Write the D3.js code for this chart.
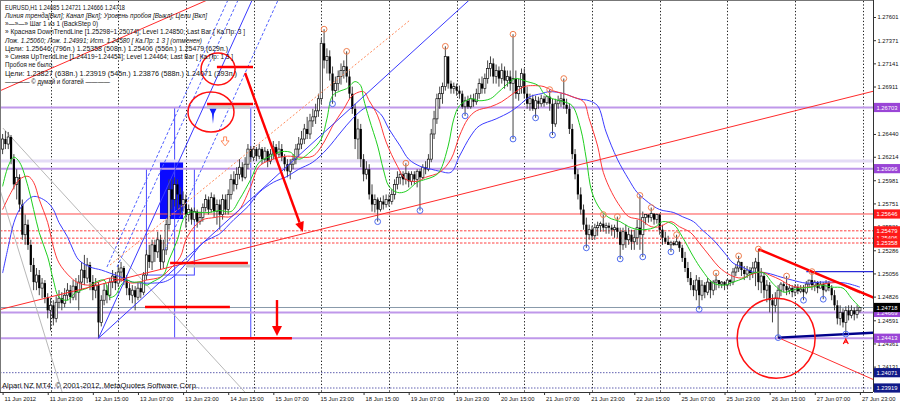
<!DOCTYPE html>
<html><head><meta charset="utf-8">
<script src="https://cdn.jsdelivr.net/npm/d3@7"></script>
<style>body{margin:0;background:#fff}svg{display:block}text{font-family:"Liberation Sans",Arial,sans-serif}</style>
</head><body><svg id="c" width="900" height="405"></svg>
<script>
// ---------------- DATA ----------------
const open=[1.2629,1.2639,1.2634,1.2641,1.2619,1.2594,1.2601,1.2574,1.2544,1.2554,
1.2534,1.2514,1.2497,1.2504,1.2491,1.2496,1.2482,1.2469,1.2474,1.2461,
1.2477,1.2481,1.2476,1.2484,1.2489,1.2482,1.2493,1.2487,1.2497,1.2509,
1.2501,1.2514,1.2497,1.2489,1.2494,1.2457,1.2479,1.2489,1.2484,1.2497,
1.2503,1.2496,1.2507,1.2511,1.2499,1.2491,1.2484,1.2489,1.2482,1.2491,
1.2487,1.2504,1.2524,1.2517,1.2534,1.2527,1.2539,1.2517,1.2529,1.2554,
1.2589,1.2579,1.2594,1.2584,1.2574,1.2579,1.2564,1.2569,1.2559,1.2567,
1.2557,1.2561,1.2571,1.2579,1.2569,1.2581,1.2567,1.2574,1.2564,1.2579,
1.2569,1.2584,1.2599,1.2594,1.2604,1.2611,1.2601,1.2614,1.2629,1.2621,
1.2629,1.2622,1.2629,1.2619,1.2627,1.2617,1.2624,1.2631,1.2624,1.2629,
1.2621,1.2614,1.2607,1.2614,1.2619,1.2629,1.2634,1.2639,1.2649,1.2644,
1.2657,1.2661,1.2667,1.2679,1.2734,1.2717,1.2721,1.2704,1.2687,1.2694,
1.2701,1.2707,1.2711,1.2701,1.2684,1.2669,1.2639,1.2649,1.2619,1.2604,
1.2609,1.2584,1.2574,1.2579,1.2569,1.2577,1.2574,1.2579,1.2577,1.2584,
1.2594,1.2601,1.2604,1.2599,1.2605,1.2597,1.2604,1.2599,1.2607,1.2601,
1.2611,1.2609,1.2619,1.2644,1.2659,1.2679,1.2684,1.2691,1.2721,1.2694,
1.2689,1.2691,1.2687,1.2684,1.2671,1.2677,1.2671,1.2679,1.2676,1.2684,
1.2694,1.2689,1.2699,1.2709,1.2714,1.2701,1.2707,1.2699,1.2707,1.2697,
1.2701,1.2694,1.2699,1.2684,1.2691,1.2704,1.2684,1.2674,1.2679,1.2669,
1.2677,1.2674,1.2679,1.2675,1.2681,1.2674,1.2654,1.2674,1.2677,1.2679,
1.2673,1.2669,1.2649,1.2624,1.2604,1.2584,1.2569,1.2554,1.2544,1.2549,
1.2543,1.2551,1.2553,1.2555,1.2551,1.2553,1.2551,1.2549,1.2551,1.2547,
1.2534,1.2547,1.2539,1.2544,1.2537,1.2541,1.2551,1.2544,1.2561,1.2564,
1.2561,1.2565,1.2559,1.2564,1.2549,1.2541,1.2537,1.2534,1.2536,1.2534,
1.2537,1.2531,1.2521,1.2511,1.2501,1.2494,1.2489,1.2499,1.2484,1.2494,
1.2487,1.2497,1.2489,1.2497,1.2499,1.2495,1.2497,1.2494,1.2499,1.2497,
1.2507,1.2511,1.2517,1.2509,1.2505,1.2509,1.2506,1.2511,1.2517,1.2497,
1.2503,1.2489,1.2494,1.2479,1.2474,1.2481,1.2489,1.2495,1.2493,1.2489,
1.2491,1.2487,1.2492,1.2488,1.2490,1.2487,1.2495,1.2499,1.2494,1.2497,
1.2491,1.2495,1.2489,1.2496,1.2491,1.2484,1.2474,1.2461,1.2467,1.2457,
1.2469,1.2464,1.2469,1.2465,1.24685];
const high=[1.2644,1.2647,1.2646,1.2643,1.2624,1.2609,1.2604,1.2579,1.2564,1.2559,
1.2539,1.2521,1.2511,1.2509,1.2501,1.2499,1.2486,1.2481,1.2479,1.2483,
1.2489,1.2487,1.2491,1.2496,1.2494,1.2499,1.2501,1.2504,1.2517,1.2524,
1.2521,1.2517,1.2504,1.2501,1.2497,1.2484,1.2496,1.2494,1.2501,1.2509,
1.2507,1.2514,1.2517,1.2513,1.2504,1.2496,1.2494,1.2493,1.2496,1.2497,
1.2507,1.2529,1.2534,1.2539,1.2539,1.2547,1.2544,1.2539,1.2559,1.2599,
1.2599,1.2601,1.2599,1.2591,1.2587,1.2584,1.2574,1.2571,1.2571,1.2569,
1.2567,1.2575,1.2584,1.2582,1.2586,1.2584,1.2579,1.2579,1.2584,1.2584,
1.2589,1.2604,1.2607,1.2611,1.2619,1.2616,1.2621,1.2634,1.2632,1.2632,
1.2631,1.2634,1.2631,1.2631,1.2629,1.2629,1.2637,1.2634,1.2637,1.2634,
1.2624,1.2619,1.2619,1.2624,1.2634,1.2641,1.2647,1.2654,1.2661,1.2664,
1.2669,1.2674,1.2684,1.2739,1.2748,1.2729,1.2727,1.2711,1.2701,1.2707,
1.2714,1.2717,1.2726,1.2707,1.2691,1.2674,1.2659,1.2654,1.2624,1.2617,
1.2614,1.2594,1.2584,1.2581,1.2581,1.2583,1.2584,1.2584,1.2589,1.2599,
1.2607,1.2607,1.2607,1.2615,1.2607,1.2607,1.2607,1.2609,1.2609,1.2614,
1.2617,1.2624,1.2649,1.2667,1.2684,1.2691,1.2695,1.2731,1.2721,1.2697,
1.2695,1.2694,1.2692,1.2687,1.2681,1.2682,1.2683,1.2684,1.2689,1.2699,
1.2701,1.2704,1.2717,1.2721,1.2719,1.2713,1.2711,1.2714,1.2711,1.2707,
1.2707,1.2743,1.2707,1.2699,1.2709,1.2709,1.2691,1.2684,1.2683,1.2682,
1.2681,1.2683,1.2682,1.2681,1.2688,1.2679,1.2679,1.2682,1.2684,1.2699,
1.2679,1.2674,1.2654,1.2629,1.2609,1.2591,1.2574,1.2561,1.2554,1.2553,
1.2555,1.2557,1.2557,1.2564,1.2556,1.2556,1.2554,1.2554,1.2562,1.2551,
1.2551,1.2554,1.2551,1.2549,1.2549,1.2559,1.2583,1.2567,1.2564,1.2564,
1.2571,1.2565,1.2565,1.2565,1.2554,1.2547,1.2543,1.2538,1.2538,1.2544,
1.2538,1.2534,1.2527,1.2517,1.2507,1.2499,1.2504,1.2502,1.2499,1.2497,
1.2501,1.2499,1.2499,1.2506,1.2499,1.2498,1.2498,1.2500,1.2500,1.2511,
1.2515,1.2523,1.2517,1.2513,1.2513,1.2512,1.2517,1.2521,1.25298,1.2511,
1.2507,1.2499,1.2497,1.2485,1.2487,1.2494,1.2497,1.2497,1.2503,1.2495,
1.2494,1.2495,1.2495,1.2494,1.2494,1.2498,1.2499,1.25074,1.2499,1.2498,
1.2498,1.2497,1.2499,1.2498,1.2494,1.2489,1.2479,1.2474,1.2471,1.2473,
1.2474,1.2474,1.2472,1.2474,1.24721];
const low=[1.2624,1.2629,1.2629,1.2614,1.2589,1.2579,1.2567,1.2539,1.2534,1.2529,
1.2507,1.2489,1.2489,1.2484,1.2481,1.2476,1.2461,1.2449,1.2454,1.2457,
1.2471,1.2469,1.2472,1.2479,1.2476,1.2479,1.2479,1.2469,1.2489,1.2494,
1.2496,1.2489,1.2479,1.2481,1.24413,1.2453,1.2474,1.2476,1.2479,1.2491,
1.2489,1.2492,1.2497,1.2494,1.2484,1.2479,1.2476,1.2469,1.2479,1.2481,
1.2484,1.2499,1.2511,1.2509,1.2517,1.2521,1.2509,1.2511,1.2524,1.2549,
1.2569,1.2572,1.2569,1.2564,1.2567,1.2551,1.2557,1.2554,1.2557,1.2551,
1.2554,1.2557,1.2567,1.2564,1.2566,1.2561,1.2554,1.2549,1.2559,1.2564,
1.2564,1.2579,1.2587,1.2589,1.2599,1.2597,1.2599,1.2609,1.2616,1.2617,
1.2617,1.2619,1.2614,1.2616,1.2611,1.2614,1.2619,1.2619,1.2621,1.2617,
1.2607,1.2601,1.2599,1.2609,1.2614,1.2621,1.2629,1.2634,1.2639,1.2639,
1.2651,1.2654,1.2661,1.2674,1.2709,1.2704,1.2697,1.2674,1.2681,1.2687,
1.2693,1.2699,1.2695,1.2679,1.2664,1.2629,1.2619,1.2611,1.2597,1.2599,
1.2579,1.2567,1.2566,1.2557,1.2567,1.2569,1.2571,1.2572,1.2574,1.2579,
1.2589,1.2594,1.2593,1.2594,1.2591,1.2593,1.2594,1.2591,1.2568,1.2599,
1.2604,1.2607,1.2616,1.2639,1.2654,1.2669,1.2674,1.2687,1.2689,1.2684,
1.2684,1.2682,1.2679,1.2669,1.2662,1.2669,1.2669,1.2671,1.2673,1.2679,
1.2684,1.2684,1.2694,1.2701,1.2694,1.2694,1.2691,1.2694,1.2689,1.2691,
1.2687,1.2639,1.2679,1.2677,1.2684,1.2679,1.2669,1.2667,1.2667,1.2660,
1.2669,1.2671,1.2671,1.2673,1.2667,1.2643,1.2651,1.2669,1.2671,1.2669,
1.2664,1.2644,1.2619,1.2599,1.2579,1.2564,1.2549,1.2531,1.2539,1.2539,
1.2539,1.2543,1.2547,1.2547,1.2545,1.2545,1.2543,1.2541,1.2541,1.2520,
1.2529,1.2531,1.2534,1.2529,1.2529,1.2534,1.2529,1.2522,1.2554,1.2556,
1.2557,1.2554,1.2555,1.2544,1.2534,1.2535,1.2534,1.2527,1.2533,1.2534,
1.2527,1.2517,1.2507,1.2497,1.2489,1.2483,1.2479,1.2470,1.2479,1.2481,
1.2484,1.2481,1.2484,1.2489,1.2491,1.2491,1.2489,1.2491,1.2493,1.2494,
1.2503,1.2507,1.2503,1.2499,1.2501,1.2499,1.2501,1.2493,1.2489,1.2486,
1.2481,1.2477,1.2467,1.2457,1.2467,1.24419,1.2483,1.2487,1.2484,1.2485,
1.2482,1.2483,1.2485,1.2486,1.2479,1.2485,1.2491,1.2489,1.2488,1.2486,
1.2491,1.2480,1.2487,1.2488,1.2479,1.2469,1.2455,1.2454,1.2452,1.24454,
1.2459,1.2461,1.2459,1.2461,1.24666];
const close=[1.2639,1.2634,1.2641,1.2619,1.2594,1.2601,1.2574,1.2544,1.2554,1.2534,
1.2514,1.2497,1.2504,1.2491,1.2496,1.2482,1.2469,1.2474,1.2461,1.2477,
1.2481,1.2476,1.2484,1.2489,1.2482,1.2493,1.2487,1.2497,1.2509,1.2501,
1.2514,1.2497,1.2489,1.2494,1.2457,1.2479,1.2489,1.2484,1.2497,1.2503,
1.2496,1.2507,1.2511,1.2499,1.2491,1.2484,1.2489,1.2482,1.2491,1.2487,
1.2504,1.2524,1.2517,1.2534,1.2527,1.2539,1.2517,1.2529,1.2554,1.2589,
1.2579,1.2594,1.2584,1.2574,1.2579,1.2564,1.2569,1.2559,1.2567,1.2557,
1.2561,1.2571,1.2579,1.2569,1.2581,1.2567,1.2574,1.2564,1.2579,1.2569,
1.2584,1.2599,1.2594,1.2604,1.2611,1.2601,1.2614,1.2629,1.2621,1.2629,
1.2622,1.2629,1.2619,1.2627,1.2617,1.2624,1.2631,1.2624,1.2629,1.2621,
1.2614,1.2607,1.2614,1.2619,1.2629,1.2634,1.2639,1.2649,1.2644,1.2657,
1.2661,1.2667,1.2679,1.2734,1.2717,1.2721,1.2704,1.2687,1.2694,1.2701,
1.2707,1.2711,1.2701,1.2684,1.2669,1.2639,1.2649,1.2619,1.2604,1.2609,
1.2584,1.2574,1.2579,1.2569,1.2577,1.2574,1.2579,1.2577,1.2584,1.2594,
1.2601,1.2604,1.2599,1.2605,1.2597,1.2604,1.2599,1.2607,1.2601,1.2611,
1.2609,1.2619,1.2644,1.2659,1.2679,1.2684,1.2691,1.2721,1.2694,1.2689,
1.2691,1.2687,1.2684,1.2671,1.2677,1.2671,1.2679,1.2676,1.2684,1.2694,
1.2689,1.2699,1.2709,1.2714,1.2701,1.2707,1.2699,1.2707,1.2697,1.2701,
1.2694,1.2699,1.2684,1.2691,1.2704,1.2684,1.2674,1.2679,1.2669,1.2677,
1.2674,1.2679,1.2675,1.2681,1.2674,1.2654,1.2674,1.2677,1.2679,1.2673,
1.2669,1.2649,1.2624,1.2604,1.2584,1.2569,1.2554,1.2544,1.2549,1.2543,
1.2551,1.2553,1.2555,1.2551,1.2553,1.2551,1.2549,1.2551,1.2547,1.2534,
1.2547,1.2539,1.2544,1.2537,1.2541,1.2551,1.2544,1.2561,1.2564,1.2561,
1.2565,1.2559,1.2564,1.2549,1.2541,1.2537,1.2534,1.2536,1.2534,1.2537,
1.2531,1.2521,1.2511,1.2501,1.2494,1.2489,1.2499,1.2484,1.2494,1.2487,
1.2497,1.2489,1.2497,1.2499,1.2495,1.2497,1.2494,1.2499,1.2497,1.2507,
1.2511,1.2517,1.2509,1.2505,1.2509,1.2506,1.2511,1.2517,1.2497,1.2503,
1.2489,1.2494,1.2479,1.2474,1.2481,1.2489,1.2495,1.2493,1.2489,1.2491,
1.2487,1.2492,1.2488,1.2490,1.2487,1.2495,1.2499,1.2494,1.2497,1.2491,
1.2495,1.2489,1.2496,1.2491,1.2484,1.2474,1.2461,1.2467,1.2457,1.2469,
1.2464,1.2469,1.2465,1.2469,1.24718];

const fractalUp=[114,122,143,157,181,194,199,213,218,226,230,239,253,261,268,278,287];
const fractalDown=[117,133,148,164,181,189,195,207,219,227,237,247,275,284,291,299];

const maFast=[[0,1.2592],[2,1.2612],[4,1.2621],[6,1.2616],[9,1.2592],[11,1.2569],[13,1.2546],[16,1.2522],[18,1.2499],[20,1.2482],[23,1.2479],[26,1.2487],[30,1.2491],[33,1.2497],[36,1.2499],[37,1.2492],[38,1.2482],[40,1.2484],[42,1.2494],[44,1.2499],[46,1.2497],[49,1.2497],[51,1.2494],[53,1.2497],[57,1.2504],[59,1.2519],[62,1.2539],[64,1.2559],[66,1.2566],[70,1.2566],[73,1.2566],[77,1.2568],[81,1.2567],[84,1.2579],[88,1.2599],[91,1.2616],[95,1.2622],[98,1.2626],[102,1.2626],[105,1.2619],[109,1.2626],[113,1.2639],[115,1.2659],[117,1.2682],[120,1.2687],[122,1.2689],[125,1.2696],[127,1.2692],[128,1.2679],[130,1.2659],[133,1.2632],[135,1.2609],[137,1.2592],[140,1.2586],[143,1.2587],[147,1.2596],[150,1.2599],[153,1.2602],[155,1.2607],[158,1.2632],[160,1.2659],[162,1.2672],[166,1.2679],[169,1.2677],[173,1.2679],[176,1.2686],[180,1.2696],[182,1.2699],[186,1.2696],[190,1.2692],[192,1.2684],[195,1.2679],[199,1.2676],[202,1.2672],[205,1.2649],[207,1.2619],[209,1.2586],[212,1.2569],[215,1.2561],[219,1.2557],[222,1.2552],[226,1.2549],[231,1.2551],[234,1.2557],[238,1.2554],[241,1.2542],[245,1.2522],[248,1.2509],[252,1.2496],[256,1.2494],[259,1.2497],[263,1.2501],[266,1.2506],[270,1.2506],[273,1.2496],[277,1.2487],[280,1.2489],[283,1.2491],[287,1.2492],[290,1.2494],[294,1.2492],[298,1.2491],[301,1.2481],[304,1.2472]];
const maMid=[[0,1.2569],[3,1.2586],[6,1.2599],[9,1.2602],[11,1.2596],[13,1.2579],[16,1.2556],[18,1.2532],[20,1.2516],[24,1.2502],[27,1.2496],[31,1.2494],[34,1.2497],[38,1.2501],[42,1.2499],[46,1.2496],[51,1.2499],[56,1.2502],[59,1.2509],[63,1.2522],[65,1.2539],[68,1.2552],[71,1.2559],[75,1.2561],[77,1.2562],[81,1.2562],[84,1.2569],[88,1.2592],[91,1.2612],[96,1.2619],[101,1.2622],[105,1.2621],[110,1.2622],[114,1.2636],[117,1.2652],[121,1.2669],[124,1.2682],[128,1.2686],[130,1.2677],[133,1.2662],[136,1.2636],[140,1.2612],[143,1.2599],[147,1.2597],[150,1.2601],[155,1.2606],[159,1.2619],[162,1.2642],[165,1.2659],[168,1.2667],[173,1.2671],[177,1.2676],[181,1.2684],[185,1.2691],[188,1.2692],[192,1.2691],[195,1.2687],[199,1.2684],[202,1.2681],[206,1.2676],[208,1.2659],[211,1.2632],[213,1.2606],[216,1.2586],[219,1.2572],[222,1.2562],[226,1.2559],[230,1.2552],[233,1.2552],[237,1.2557],[240,1.2552],[244,1.2546],[247,1.2536],[251,1.2522],[254,1.2512],[258,1.2504],[262,1.2501],[265,1.2504],[269,1.2507],[272,1.2504],[276,1.2499],[279,1.2494],[282,1.2492],[286,1.2492],[289,1.2494],[293,1.2496],[297,1.2496],[300,1.2491],[304,1.2486]];
const maSlow=[[0,1.2506],[2,1.2532],[4,1.2556],[6,1.2569],[9,1.2579],[11,1.2582],[13,1.2581],[16,1.2576],[18,1.2569],[20,1.2556],[23,1.2542],[25,1.2529],[27,1.2519],[31,1.2512],[35,1.2509],[38,1.2506],[42,1.2502],[46,1.2497],[50,1.2496],[53,1.2496],[57,1.2497],[60,1.2501],[64,1.2512],[68,1.2526],[71,1.2536],[75,1.2542],[77,1.2545],[82,1.2559],[87,1.2572],[91,1.2586],[96,1.2596],[101,1.2602],[105,1.2609],[110,1.2616],[115,1.2629],[120,1.2646],[124,1.2659],[128,1.2669],[130,1.2671],[134,1.2664],[137,1.2649],[141,1.2632],[144,1.2619],[148,1.2612],[152,1.2609],[155,1.2607],[159,1.2606],[162,1.2622],[166,1.2642],[169,1.2652],[175,1.2659],[180,1.2666],[183,1.2672],[187,1.2681],[191,1.2684],[194,1.2686],[199,1.2684],[204,1.2679],[208,1.2677],[211,1.2672],[214,1.2646],[218,1.2619],[222,1.2599],[225,1.2586],[229,1.2576],[233,1.2569],[238,1.2566],[241,1.2562],[245,1.2557],[248,1.2549],[252,1.2539],[256,1.2526],[259,1.2516],[263,1.2511],[266,1.2507],[271,1.2506],[276,1.2502],[280,1.2499],[285,1.2496],[290,1.2497],[294,1.2497],[299,1.2496],[304,1.2492]];

const priceTicks=[1.27601,1.27371,1.27141,1.26911,1.26440,1.26214,1.25981,1.25751,1.25521,1.25286,1.25056,1.24826,1.24591,1.24361,1.24131];
const timeTickIdx=[0,16,32,48,64,80,96,112,128,144,160,176,192,208,224,240,256,272,288,304];
const timeTickLabels=["11 Jun 2012","11 Jun 23:00","12 Jun 15:00","13 Jun 07:00","13 Jun 23:00","14 Jun 15:00","15 Jun 07:00","15 Jun 23:00","18 Jun 15:00","19 Jun 07:00","19 Jun 23:00","20 Jun 15:00","21 Jun 07:00","21 Jun 23:00","22 Jun 15:00","25 Jun 07:00","25 Jun 23:00","26 Jun 15:00","27 Jun 07:00","27 Jun 23:00"];
const dayStartIdx=[17,41,65,89,113,137,161,185,209,233,257,281,305];

const purpleLevels=[1.26703,1.26096,1.24669,1.24413];
const lavenderLevel=1.26172;
const redSolidLevels=[1.25646];
const redDashedLevels=[1.25479,1.25406,1.25358];
const navyLevels=[1.24071,1.23919];
const bidPrice=1.24718;

// chart objects: [barIndex, price] anchors
const redLongLine=[[0,1.24704],[300,1.26803]];
const redTopLine=[[0,1.2688],[71,1.2775]];
const redDownTrend=[[268,1.25298],[287,1.25074]];
const blueUpTrend=[[275,1.24419],[299,1.24454]];
const redThinLine=[[275,1.24419],[309,1.2400]];
const blueLevelRay=[[285,1.25074],[309,1.25074]];
const blueLineA=[[34,1.24413],[88.5,1.2777]];
const blueLineC=[[34,1.24413],[155,1.27502]];
const blueDash1=[[37,1.2512],[79.9,1.2777]];
const blueDash2=[[40.6,1.2512],[83.5,1.2777]];
const blueDash3=[[57.6,1.2529],[97.7,1.2777]];
const orangeDash=[[38.1,1.2514],[144.5,1.27571]];
const grayLine1=[[0.1,1.26499],[85.9,1.23879]];
const grayLine2=[[-0.9,1.25884],[21.1,1.23879]];
const blueFillBox=[[55.8,1.26172],[64,1.25596]];
const blueBox1=[[51,1.26096],[68,1.2504]];
const blueBox2=[[61,1.26703],[88,1.24413]];
const redSegs=[[[76,1.27105],[88.8,1.27105]],[[72.5,1.26738],[88.8,1.26738]],[[59.4,1.2516],[87,1.2516]],[[50.5,1.24723],[80.6,1.24723]],[[77.1,1.24413],[102.6,1.24413]]];
const graySegs=[[[72.5,1.26708],[87.7,1.26708]],[[65,1.2513],[87.7,1.2513]]];
const redEllipses=[[76.4,1.27085],[73.9,1.26658],[274.3,1.24413]];
const bigArrow=[[86,1.27045],[106.5,1.25468]];
const downArrow=[[97.3,1.24792],[97.3,1.24435]];
const blueArrowAt=[74.6,1.2669];
const orangeArrowAt=[78.9,1.26411];

const headerLines=[
"EURUSD,H1  1.24685 1.24721 1.24666 1.24718",
"Линия тренда[Вкл]; Канал [Вкл]; Уровень пробоя [Выкл]; Цели [Вкл]",
"»—»—» Шаг 1 из 1 (BackStep 0)",
"» Красная DownTrendLine [1.25298÷1.25074]; Level 1.24850; Last Bar [ Ка.Пр: 3 ]",
"Лож. 1.25060; Лож. 1.24991; Ист. 1.24580 [ Ка.Пр: 1 3 ] (отменен)",
"Цели: 1.25646 (796п.) 1.25358 (508п.) 1.25406 (556п.) 1.25479 (629п.)",
"» Синяя UpTrendLine [1.24419÷1.24454]; Level 1.24464; Last Bar [ Ка.Пр: 1 3 ]",
"Пробоя не было.",
"Цели: 1.23827 (638п.) 1.23919 (545п.) 1.23876 (588п.) 1.24071 (393п.)",
"———— © думай и богатей ————"];
const copyright="Alpari NZ MT4, © 2001-2012, MetaQuotes Software Corp.";

// ---------------- DRAW ----------------
const R=873, B=392;
const x=d3.scaleLinear().domain([0,304]).range([2.6,859.9]);
const y=d3.scaleLinear().domain([1.23919,1.27601]).range([388,17]);
const svg=d3.select("#c");
svg.append("rect").attr("width",900).attr("height",405).attr("fill","#fff");
svg.append("defs").append("clipPath").attr("id","clip").append("rect").attr("x",1).attr("y",1).attr("width",R-1).attr("height",B-1);
const g=svg.append("g").attr("clip-path","url(#clip)");

function seg(p,a,b,stroke,w,dash,ext){
  let x1=x(a[0]),y1=y(a[1]),x2=x(b[0]),y2=y(b[1]);
  if(ext){const k=(y2-y1)/(x2-x1); if(ext==="both"){y1=y1+k*(-5-x1);x1=-5;} y2=y1+k*(900-x1);x2=900;}
  const l=p.append("line").attr("x1",x1).attr("y1",y1).attr("x2",x2).attr("y2",y2).attr("stroke",stroke).attr("stroke-width",w);
  if(dash)l.attr("stroke-dasharray",dash);
  return l;
}
function hline(p,pr,stroke,w,dash,x1){
  const l=p.append("line").attr("x1",x1||0).attr("x2",R).attr("y1",y(pr)).attr("y2",y(pr)).attr("stroke",stroke).attr("stroke-width",w);
  if(dash)l.attr("stroke-dasharray",dash);
}

// background rectangles
const bx=blueFillBox;
g.append("rect").attr("x",x(bx[0][0])).attr("y",y(bx[0][1])).attr("width",x(bx[1][0])-x(bx[0][0])).attr("height",y(bx[1][1])-y(bx[0][1])).attr("fill","#0a0aff");
[blueBox1,blueBox2].forEach(b=>g.append("rect").attr("x",x(b[0][0])).attr("y",y(b[0][1])).attr("width",x(b[1][0])-x(b[0][0])).attr("height",y(b[1][1])-y(b[0][1])).attr("fill","none").attr("stroke","#4a4aff").attr("stroke-width",1));

// vertical grid
dayStartIdx.forEach(d=>g.append("line").attr("x1",Math.round(x(d))+0.5).attr("x2",Math.round(x(d))+0.5).attr("y1",1).attr("y2",B).attr("stroke","#222").attr("stroke-width",1).attr("stroke-dasharray","1.3,2"));

// horizontal levels
hline(g,lavenderLevel,"#e4dcf6",3);
purpleLevels.forEach(p=>hline(g,p,"#bf98ea",2));
redSolidLevels.forEach(p=>hline(g,p,"#ff4a4a",1));
redDashedLevels.forEach(p=>hline(g,p,"#ff4040",1,"2.5,1.5"));
navyLevels.forEach((p,i)=>hline(g,p,"#6060b0",1,"1.5,1.5",0));
hline(g,bidPrice,"#8899aa",1);

// gray diagonal lines
seg(g,grayLine1[0],grayLine1[1],"#b8b8b8",1);
seg(g,grayLine2[0],grayLine2[1],"#b8b8b8",1);

// candles
const cg=g.append("g");
close.forEach((c,i)=>{
  const cx=x(i);
  cg.append("line").attr("x1",cx).attr("x2",cx).attr("y1",y(high[i])).attr("y2",y(low[i])).attr("stroke","#444").attr("stroke-width",1);
  const top=y(Math.max(open[i],c)), bot=y(Math.min(open[i],c));
  const bull=c>=open[i];
  cg.append("rect").attr("x",cx-1.1).attr("y",top).attr("width",2.2).attr("height",Math.max(0.8,bot-top))
    .attr("fill",bull?"#fff":"#000").attr("stroke",bull?"#111":"none").attr("stroke-width",0.7);
});

// moving averages
const mline=d3.line().x(d=>x(d[0])).y(d=>y(d[1])).curve(d3.curveCatmullRom.alpha(0.5));
[[maSlow,"#3c3cff"],[maMid,"#ff3838"],[maFast,"#1fcf1f"]].forEach(([d,c])=>g.append("path").attr("d",mline(d)).attr("fill","none").attr("stroke",c).attr("stroke-width",1));

// trend / channel lines
seg(g,redLongLine[0],redLongLine[1],"#ff2a2a",1,null,"both");
seg(g,redTopLine[0],redTopLine[1],"#ff2a2a",1,null,"both");
seg(g,blueLineA[0],blueLineA[1],"#3a3aff",1);
seg(g,blueLineC[0],blueLineC[1],"#3a3aff",1,null,"right");
seg(g,blueDash1[0],blueDash1[1],"#4f5fff",1,"3,2");
seg(g,blueDash2[0],blueDash2[1],"#4f5fff",1,"3,2");
seg(g,blueDash3[0],blueDash3[1],"#4f5fff",1,"3,2");
seg(g,orangeDash[0],orangeDash[1],"#ff8a5a",1,"2,2");
seg(g,redThinLine[0],redThinLine[1],"#ff3030",1);
seg(g,blueLevelRay[0],blueLevelRay[1],"#2a2ad8",1.2);
seg(g,redDownTrend[0],redDownTrend[1],"#ff0000",2.4,null,"right");
seg(g,blueUpTrend[0],blueUpTrend[1],"#00008b",2.4,null,"right");

// red / gray horizontal marker segments
graySegs.forEach(s=>seg(g,[s[0][0],s[0][1]],[s[1][0],s[1][1]],"#c4c4c4",3));
redSegs.forEach(s=>seg(g,s[0],s[1],"#ff0000",2.4));
// ellipses
const ellR=[[17,16],[23,20],[39,40]];
redEllipses.forEach((e,i)=>g.append("ellipse").attr("cx",x(e[0])).attr("cy",y(e[1])).attr("rx",ellR[i][0]).attr("ry",ellR[i][1]).attr("fill","none").attr("stroke","#ff1010").attr("stroke-width",1.5));
// arrows
(function(){
  const x1=x(bigArrow[0][0]),y1=y(bigArrow[0][1]),x2=x(bigArrow[1][0]),y2=y(bigArrow[1][1]);
  const a=Math.atan2(y2-y1,x2-x1),L=10,Wd=4.5;
  const bxp=x2-L*Math.cos(a),byp=y2-L*Math.sin(a);
  g.append("line").attr("x1",x1).attr("y1",y1).attr("x2",bxp).attr("y2",byp).attr("stroke","#ff0000").attr("stroke-width",2.4);
  g.append("path").attr("d",`M${x2},${y2}L${bxp+Wd*Math.sin(a)},${byp-Wd*Math.cos(a)}L${bxp-Wd*Math.sin(a)},${byp+Wd*Math.cos(a)}Z`).attr("fill","#ff0000");
  const dx=x(downArrow[0][0]),dy1=y(downArrow[0][1]),dy2=y(downArrow[1][1]);
  g.append("line").attr("x1",dx).attr("x2",dx).attr("y1",dy1).attr("y2",dy2-9).attr("stroke","#ff0000").attr("stroke-width",2.4);
  g.append("path").attr("d",`M${dx},${dy2}L${dx-5},${dy2-10}L${dx+5},${dy2-10}Z`).attr("fill","#ff0000");
  const ax=x(blueArrowAt[0]),ay=y(blueArrowAt[1]);
  g.append("path").attr("d",`M${ax-3.5},${ay}L${ax+3.5},${ay}L${ax+1},${ay+5}L${ax},${ay+15}L${ax-1},${ay+5}Z`).attr("fill","#1020ff");
  const ox=x(orangeArrowAt[0]),oy=y(orangeArrowAt[1]);
  g.append("path").attr("d",`M${ox-1.5},${oy}L${ox+1.5},${oy}L${ox+1.5},${oy+4}L${ox+4},${oy+4}L${ox},${oy+9}L${ox-4},${oy+4}L${ox-1.5},${oy+4}Z`).attr("fill","#fff").attr("stroke","#ff8050").attr("stroke-width",0.9);
})();

// fractal circles
fractalUp.forEach(i=>g.append("circle").attr("cx",x(i)).attr("cy",y(high[i])).attr("r",2.9).attr("fill","none").attr("stroke","#f08050").attr("stroke-width",1));
fractalDown.forEach(i=>g.append("circle").attr("cx",x(i)).attr("cy",y(low[i])).attr("r",2.9).attr("fill","none").attr("stroke","#4f6cf0").attr("stroke-width",1));
// marker under last UpTrend fractal
{const mx=x(fractalDown[fractalDown.length-1]),my=y(low[fractalDown[fractalDown.length-1]])+7;
 g.append("path").attr("d",`M${mx-2.5},${my+3}L${mx},${my-2}L${mx+2.5},${my+3}M${mx-1.5},${my+1}L${mx+1.5},${my+1}`).attr("fill","none").attr("stroke","#ff0000").attr("stroke-width",1.2);}

// frame
svg.append("line").attr("x1",R+0.5).attr("x2",R+0.5).attr("y1",0).attr("y2",B).attr("stroke","#333");
svg.append("line").attr("x1",0).attr("x2",R).attr("y1",B+0.5).attr("y2",B+0.5).attr("stroke","#333");
svg.append("line").attr("x1",0.5).attr("x2",0.5).attr("y1",0).attr("y2",B).attr("stroke","#777");
svg.append("line").attr("x1",0).attr("x2",R).attr("y1",0.5).attr("y2",0.5).attr("stroke","#777");

// right axis
const ya=svg.append("g").attr("transform",`translate(${R},0)`).call(d3.axisRight(y).tickValues(priceTicks).tickFormat(d3.format(".5f")).tickSize(3).tickPadding(1.5));
ya.select(".domain").remove();
ya.selectAll("text").attr("font-size",5.8).attr("fill","#111");
ya.selectAll("line").attr("stroke","#333");
// bottom axis
const xa=svg.append("g").attr("transform",`translate(0,${B})`).call(d3.axisBottom(x).tickValues(timeTickIdx).tickFormat((d,i)=>timeTickLabels[i]).tickSize(3).tickPadding(2));
xa.select(".domain").remove();
xa.selectAll("text").attr("font-size",5.8).attr("fill","#111").attr("text-anchor","start").attr("dx",1.5);
xa.selectAll("line").attr("stroke","#333");

// price boxes
function box(p,col){
  svg.append("rect").attr("x",R+1).attr("y",y(p)-4.6).attr("width",900-R-1).attr("height",9.2).attr("fill",col);
  svg.append("text").attr("x",R+3.5).attr("y",y(p)+2.1).attr("font-size",5.8).attr("fill","#fff").text(d3.format(".5f")(p));
}
purpleLevels.forEach(p=>box(p,"#9a45d6"));
redSolidLevels.concat(redDashedLevels).forEach(p=>box(p,"#ff1a1a"));
navyLevels.forEach(p=>box(p,"#101a88"));
box(bidPrice,"#000");

// header text
const ends=[125,207,98,245,202,228,233,54,237,110];
headerLines.forEach((t,i)=>{
  const tx=svg.append("text").attr("x",5).attr("y",9.6+i*8.25).attr("font-size",6.4).attr("fill","#111").text(t)
    .attr("textLength",ends[i]-5).attr("lengthAdjust","spacingAndGlyphs");
  if(i===1||i===4)tx.attr("font-style","italic");
});
svg.append("text").attr("x",2).attr("y",388).attr("font-size",6.4).attr("fill","#111").text(copyright).attr("textLength",196).attr("lengthAdjust","spacingAndGlyphs");
</script>
</body></html>
